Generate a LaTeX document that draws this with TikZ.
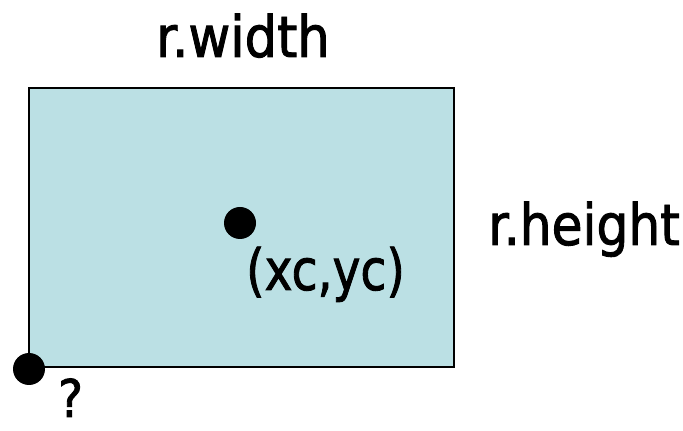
\documentclass[tikz,border=0pt]{standalone}
\usepackage{fontspec}
\setmainfont[FakeBold=1.6]{DejaVu Sans Condensed}
\definecolor{boxfill}{RGB}{187,224,228}
\begin{document}
\begin{tikzpicture}[x=1pt,y=1pt,
  lbl/.style={anchor=base west,inner sep=0pt,font=\fontsize{57}{60}\selectfont},
  dot/.style={circle,fill=black,minimum size=32pt,inner sep=0pt}]
\useasboundingbox (0,0) rectangle (683,431);
\node[draw=black,line width=1.6pt,fill=boxfill,minimum width=425pt,minimum height=279pt,inner sep=0pt,anchor=south west] (r) at (28,63) {};
\node[dot] (c) at (240,208) {};
\node[dot] (o) at (29,62) {};
\node[lbl] (w) at (156,374) {r.width};
\node[lbl] (h) at (488,186) {\scalebox{0.98}[1]{r.height}};
\node[lbl] (xy) at (246,141) {\scalebox{0.92}[1]{(xc,yc)}};
\node[lbl,font=\fontsize{52}{56}\selectfont] (q) at (58,14) {?};
\end{tikzpicture}
\end{document}
